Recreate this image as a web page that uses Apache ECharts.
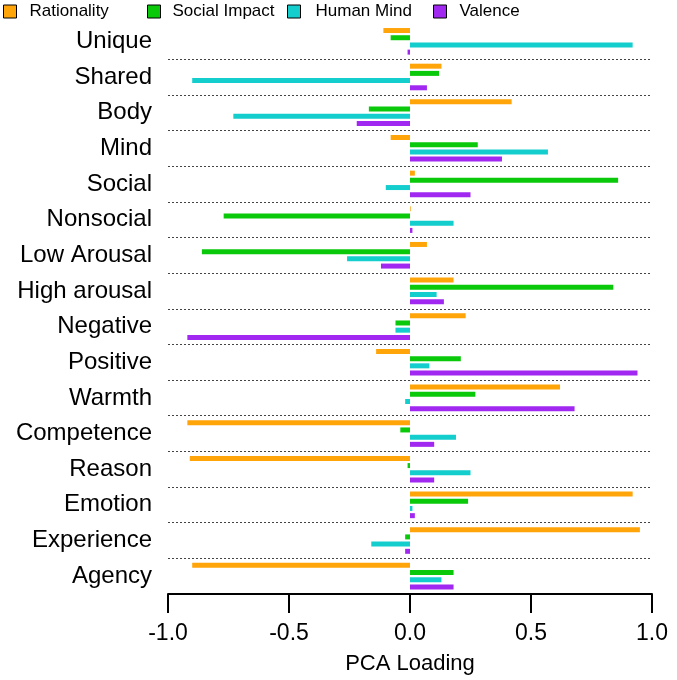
<!DOCTYPE html>
<html>
<head>
<meta charset="utf-8">
<script src="https://cdn.jsdelivr.net/npm/echarts@6/dist/echarts.min.js"></script>
<style>html,body{margin:0;padding:0;background:#fff;}#c{width:677px;height:680px;}</style>
</head>
<body>
<div id="c"></div>
<script>
var categories = ['Unique','Shared','Body','Mind','Social','Nonsocial','Low Arousal','High arousal','Negative','Positive','Warmth','Competence','Reason','Emotion','Experience','Agency'];
var seriesNames = ['Rationality','Social Impact','Human Mind','Valence'];
var rationality = [-0.11, 0.13, 0.42, -0.08, 0.02, 0.003, 0.07, 0.18, 0.23, -0.14, 0.62, -0.92, -0.91, 0.92, 0.95, -0.90];
var socialImpact = [-0.08, 0.12, -0.17, 0.28, 0.86, -0.77, -0.86, 0.84, -0.06, 0.21, 0.27, -0.04, -0.01, 0.24, -0.02, 0.18];
var humanMind = [0.92, -0.90, -0.73, 0.57, -0.10, 0.18, -0.26, 0.11, -0.06, 0.08, -0.02, 0.19, 0.25, 0.01, -0.16, 0.13];
var valence = [-0.01, 0.07, -0.22, 0.38, 0.25, 0.01, -0.12, 0.14, -0.92, 0.94, 0.68, 0.10, 0.10, 0.02, -0.02, 0.18];
var xTickLabels = ['-1.0','-0.5','0.0','0.5','1.0'];

var colors = ['#ffa50a','#0ac80a','#14cdcd','#a028f0'];
var values = [rationality, socialImpact, humanMind, valence];
var font = 'Liberation Sans, Arial, sans-serif';

var chart = echarts.init(document.getElementById('c'), null, {renderer:'canvas'});
var legendLefts = [3, 147, 287, 433];
var legendTextPad = [8, 7, 10, 8];
var legends = seriesNames.map(function(n, i){
  return {
    data: [n], left: legendLefts[i], top: 3, padding: 0,
    icon: 'rect', itemWidth: 13, itemHeight: 13,
    itemStyle: {borderColor: '#000', borderWidth: 1},
    textStyle: {fontSize: 17, color: '#000', fontFamily: font, padding: [0,0,0,legendTextPad[i]]},
    selectedMode: false
  };
});
var series = seriesNames.map(function(n, i){
  return {
    name: n, type: 'bar', data: values[i],
    barWidth: 5, barGap: '44%',
    itemStyle: {color: colors[i]},
    emphasis: {disabled: true},
    animation: false
  };
});
chart.setOption({
  animation: false,
  legend: legends,
  grid: {left: 168, right: 25, top: 23.5, bottom: 85, containLabel: false},
  xAxis: {
    type: 'value', min: -1, max: 1, interval: 0.5,
    name: 'PCA Loading', nameLocation: 'middle', nameGap: 59,
    nameTextStyle: {fontSize: 22, color: '#000', fontFamily: font},
    axisLine: {show: true, onZero: false, lineStyle: {color: '#000', width: 2}},
    axisTick: {show: true, length: 19, lineStyle: {color: '#000', width: 2}},
    axisLabel: {fontSize: 23, color: '#000', fontFamily: font, margin: 28,
      formatter: function(v){ return xTickLabels[Math.round((v + 1) / 0.5)]; }},
    splitLine: {show: false}
  },
  yAxis: {
    type: 'category', data: categories, inverse: true,
    axisLine: {show: false}, axisTick: {show: false},
    axisLabel: {fontSize: 24, color: '#000', fontFamily: font, margin: 16},
    splitLine: {show: true, interval: function(idx){ return idx !== 0; },
      lineStyle: {color: '#444', width: 1, type: [2, 2]}}
  },
  series: series
});
</script>
</body>
</html>
